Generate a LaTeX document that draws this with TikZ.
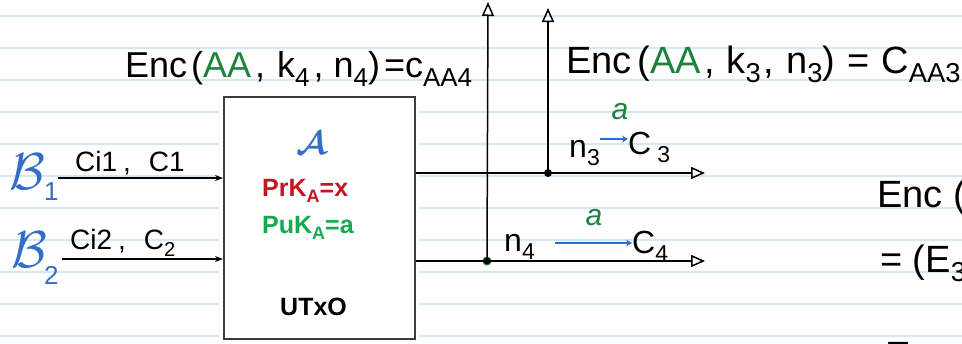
\documentclass[tikz,border=0pt]{standalone}
\usepackage{fontspec}
\usepackage{graphicx}
\usepackage{amsmath}
\setmainfont{Liberation Sans}
\usetikzlibrary{arrows.meta}
\definecolor{paper}{RGB}{208,233,250}
\definecolor{hblue}{RGB}{50,110,200}
\definecolor{hgreen}{RGB}{30,130,60}
\definecolor{kred}{RGB}{200,20,30}
\definecolor{kgreen}{RGB}{20,170,80}
\definecolor{boxgray}{RGB}{60,60,60}
\newcommand{\lsub}[1]{\raisebox{-0.25em}{\scalebox{0.72}{#1}}}
\begin{document}
\begin{tikzpicture}[x=1pt,y=-1pt,
  hand/.style={inner sep=0pt, anchor=base west, font=\fontsize{32}{36}\selectfont},
  handbig/.style={hand, font=\fontsize{38}{42}\selectfont},
  handsmall/.style={hand, font=\fontsize{28}{32}\selectfont},
  wire/.style={line width=1.5pt, black},
  outarrow/.style={wire, -{Triangle[open, length=14pt, width=12pt, line width=1.5pt]}},
  inarrow/.style={wire, -{Stealth[length=8pt, width=6pt]}},
  bluearrow/.style={hblue, line width=1.5pt, -{Stealth[length=6pt, width=7pt]}},
  dot/.style={circle, fill=black, inner sep=0pt, minimum size=8pt},
  keytext/.style={inner sep=0pt, anchor=base west, font=\bfseries\fontsize{25}{28}\selectfont}
]
\useasboundingbox (0,0) rectangle (962,343);
\clip (0,0) rectangle (962,343);
\fill[white] (0,0) rectangle (962,343);
\foreach \y in {16,48,...,336} \draw[paper, line width=1.2pt] (0,\y) -- (962,\y);

% box
\fill[white] (219,92) rectangle (419,343);
\node[draw=boxgray, line width=2pt, fill=white, minimum width=191pt, minimum height=242pt, inner sep=0pt] (box) at (319.5,218) {};
\node[text=hblue, inner sep=0pt] (calA) at (312,143) {\scalebox{3.3}{\boldmath$\mathcal{A}$}};
\node[keytext, text=kred] (prk) at (262,196) {PrK\lsub{A}=x};
\node[keytext, text=kgreen] (puk) at (262,233) {PuK\lsub{A}=a};
\node[keytext, text=black, font=\bfseries\fontsize{25}{28}\selectfont] (utxo) at (280,315) {UTxO};

% inputs
\node[text=hblue, inner sep=0pt] (b1) at (27,172) {\scalebox{5.2}{$\mathcal{B}$}};
\node[hand, text=hblue, font=\fontsize{26}{30}\selectfont] (b1s) at (44,200) {1};
\node[text=hblue, inner sep=0pt] (b2) at (29,250) {\scalebox{5.2}{$\mathcal{B}$}};
\node[hand, text=hblue, font=\fontsize{26}{30}\selectfont] (b2s) at (44,284) {2};
\coordinate (i1) at (58,178);
\coordinate (i2) at (62,259);
\draw[inarrow] (i1) -- (i1 -| box.west);
\draw[inarrow] (i2) -- (i2 -| box.west);
\node[handsmall] (l1) at (75,171) {Ci1\hspace{6pt},\hspace{18pt}C1};
\node[handsmall] (l2) at (70,249) {Ci2\hspace{6pt},\hspace{18pt}C\lsub{2}};

% outputs
\coordinate (o3) at (705,173);
\coordinate (o4) at (705,261);
\node[dot] (d3) at (548,173) {};
\node[dot, draw=hgreen, line width=1pt] (d4) at (487,261) {};
\coordinate (t3) at (548,8);
\coordinate (t4) at (488,2);
\draw[outarrow] (box.east |- o3) -- (o3);
\draw[outarrow] (box.east |- o4) -- (o4);
\draw[outarrow] (d3.center) -- (t3);
\draw[outarrow] (d4.center) -- (t4);

% top labels
\node[hand, font=\fontsize{36}{40}\selectfont] (enc4) at (125,77) {Enc\hspace{4pt}(\textcolor{hgreen}{AA}\hspace{4pt},\hspace{12pt}k\lsub{4}\hspace{4pt},\hspace{10pt}n\lsub{4})\hspace{4pt}=c\lsub{AA4}};
\node[handbig] (enc3) at (566,73) {Enc\hspace{6pt}(\textcolor{hgreen}{AA}\hspace{3pt},\hspace{12pt}k\lsub{3}\hspace{3pt},\hspace{12pt}n\lsub{3})\hspace{12pt}=\hspace{12pt}C\lsub{AA3}};

% n3 -> C3
\node[hand, font=\fontsize{32}{34}\selectfont] (n3) at (569,157) {n\lsub{3}};
\node[hand, font=\fontsize{32}{34}\selectfont] (c3) at (628,154) {C\hspace{6pt}\lsub{3}};
\draw[bluearrow] (n3.east |- 0,139) -- (c3.west |- 0,139);
\node[text=hgreen, inner sep=0pt, font=\fontsize{30}{30}\selectfont\itshape] (a3) at (620,112) {a};

% n4 -> C4
\node[hand, font=\fontsize{32}{34}\selectfont] (n4) at (504,251) {n\lsub{4}};
\node[hand, font=\fontsize{32}{34}\selectfont] (c4) at (632,253) {C\lsub{4}};
\draw[bluearrow] (555,243) -- (c4.west |- 0,243);
\node[text=hgreen, inner sep=0pt, font=\fontsize{30}{30}\selectfont\itshape] (a4) at (594,218) {a};

% right edge
\node[handbig] (encr) at (877,207) {Enc (};
\node[handbig] (eqr) at (880,272) {= (E\lsub{3}};
\node[handbig] (encr2) at (885,368) {Enc (};
\end{tikzpicture}
\end{document}
